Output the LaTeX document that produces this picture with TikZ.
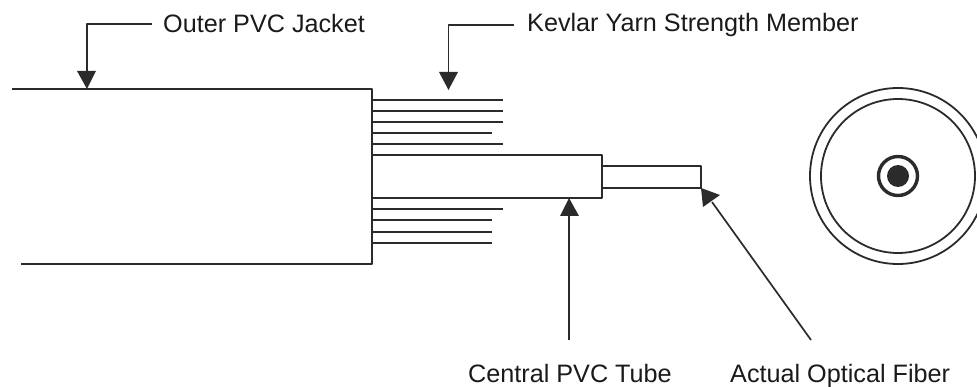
\documentclass[tikz,border=0pt]{standalone}
\usepackage{fontspec}
\setmainfont{Liberation Sans}
\definecolor{ink}{HTML}{2B2B2B}
\definecolor{textink}{HTML}{1A1A1A}
\tikzset{
  x=1pt,y=-1pt,
  outline/.style={draw=ink,line width=2pt,line join=round},
  strand/.style={draw=ink,line width=1.8pt},
  leader/.style={draw=ink,line width=1.7pt},
  tip/.style={fill=ink,draw=none},
  lab/.style={inner sep=0pt,anchor=base west,text=textink,font=\fontsize{25.2}{28}\selectfont},
}
\begin{document}
\begin{tikzpicture}
\useasboundingbox (0,0) rectangle (977,387);
% jacket
\draw[outline] (12,89) -- (372,89) -- (372,264) -- (21,264);
% central tube and fiber
\draw[outline] (372,155) -- (602,155) -- (602,198) -- (372,198);
\draw[outline] (602,166) -- (701,166) -- (701,188) -- (602,188);
% strands
\foreach \yy/\xx in {100/503,110.7/503,122/503,132.7/492,143.7/503,209/503,220/492,232/492,243/492}
  \draw[strand] (372,\yy) -- (\xx,\yy);
% end view
\coordinate (c) at (898,176);
\draw[draw=ink,line width=1.8pt] (c) circle[radius=88];
\draw[draw=ink,line width=1.8pt] (c) circle[radius=77];
\draw[draw=ink,line width=3.4pt] (c) circle[radius=19.5];
\fill[ink] (c) circle[radius=11];
% labels
\node[lab] (jacket) at (163,32.5) {Outer PVC Jacket};
\node[lab] (kevlar) at (527,32) {Kevlar Yarn Strength Member};
\node[lab] (tube) at (468,382) {Central PVC Tube};
\node[lab] (fiber) at (730,382) {Actual Optical Fiber};
% leaders
\coordinate (j1) at (152,24); \coordinate (j2) at (86.7,24); \coordinate (j3) at (86.7,72);
\draw[leader,line join=round] (j1) -- (j2) -- (j3);
\fill[tip] (77,71) -- (96,71) -- (87,89) -- cycle;
\coordinate (k1) at (514,25); \coordinate (k2) at (448.5,25); \coordinate (k3) at (448.5,72);
\draw[leader,line join=round] (k1) -- (k2) -- (k3);
\fill[tip] (439,72) -- (458,72) -- (448.5,90) -- cycle;
\coordinate (t1) at (569,340); \coordinate (t2) at (569,215);
\draw[leader] (t1) -- (t2);
\fill[tip] (560,216) -- (579,216) -- (569,198) -- cycle;
\coordinate (f1) at (811,340); \coordinate (f2) at (712,202);
\draw[leader] (f1) -- (f2);
\fill[tip] (701,188) -- (703,207) -- (720,195) -- cycle;
\end{tikzpicture}
\end{document}
